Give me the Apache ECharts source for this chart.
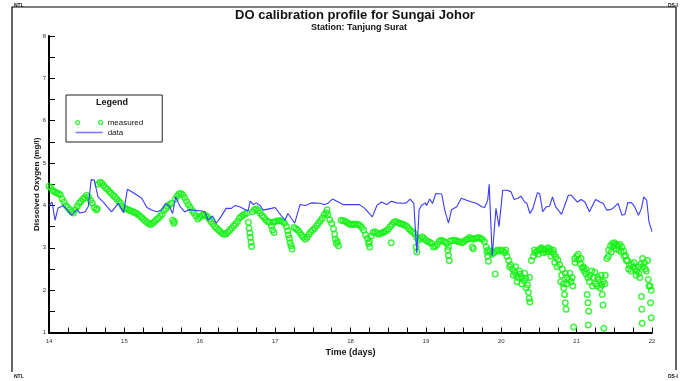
<!DOCTYPE html>
<html>
<head>
<meta charset="utf-8">
<script src="https://cdn.jsdelivr.net/npm/echarts@6/dist/echarts.min.js"></script>
<style>
html,body{margin:0;padding:0;background:#fff;}
#chart{width:683px;height:381px;}
</style>
</head>
<body>
<div id="chart"></div>
<script>
// ---- data (time in days, DO in mg/l) ----
const titleText = 'DO calibration profile for Sungai Johor';
const subtitleText = 'Station: Tanjung Surat';
const xTickLabels = ['14','15','16','17','18','19','20','21','22'];
const yTickLabels = ['1','2','3','4','5','6','7','8'];

const modelData = [
[14.00,4.0],[14.04,4.08],[14.08,3.65],[14.12,3.94],[14.19,4.0],[14.30,3.77],[14.37,3.91],[14.41,3.82],[14.48,3.85],[14.52,3.97],
[14.56,4.61],[14.60,4.6],[14.65,4.2],[14.72,4.08],[14.83,3.85],[14.92,4.05],[14.99,3.83],[15.04,4.38],[15.12,4.3],[15.23,4.17],
[15.30,3.95],[15.36,3.89],[15.43,3.85],[15.49,3.89],[15.55,4.05],[15.60,3.97],[15.64,3.81],[15.68,4.2],[15.74,3.97],[15.80,3.85],
[15.86,3.9],[15.91,3.89],[16.03,3.87],[16.07,3.85],[16.11,3.65],[16.17,3.75],[16.22,3.58],[16.28,3.73],[16.35,3.93],[16.42,3.93],
[16.47,4.0],[16.53,3.97],[16.64,3.87],[16.67,4.1],[16.71,4.02],[16.75,4.06],[16.80,4.0],[16.84,3.89],[16.95,3.93],[17.00,3.95],
[17.06,3.81],[17.13,3.65],[17.17,3.81],[17.26,3.58],[17.33,4.02],[17.40,4.0],[17.48,4.06],[17.59,4.05],[17.66,4.02],[17.70,4.05],
[17.76,4.15],[17.84,4.08],[17.90,4.02],[17.99,4.02],[18.12,4.02],[18.19,3.93],[18.26,3.79],[18.29,3.73],[18.35,4.0],[18.41,4.08],
[18.48,4.02],[18.54,4.1],[18.61,4.06],[18.70,4.05],[18.74,4.06],[18.79,4.15],[18.84,4.05],[18.88,2.87],[18.91,3.89],[18.94,4.0],
[18.99,4.06],[19.01,4.0],[19.05,4.15],[19.09,4.05],[19.13,4.28],[19.21,4.27],[19.25,3.89],[19.30,3.58],[19.34,3.9],[19.41,3.97],
[19.47,4.17],[19.54,4.12],[19.61,4.08],[19.67,4.05],[19.74,3.97],[19.78,3.95],[19.82,4.12],[19.84,4.5],[19.88,2.8],[19.93,3.93],
[19.97,3.5],[20.02,4.36],[20.08,4.36],[20.13,4.32],[20.17,4.14],[20.22,4.17],[20.26,4.22],[20.31,4.08],[20.34,4.05],[20.38,3.81],
[20.42,3.93],[20.48,4.3],[20.51,4.28],[20.55,3.85],[20.60,3.97],[20.64,3.98],[20.68,4.2],[20.72,3.97],[20.80,3.79],[20.89,4.24],
[20.93,4.24],[21.01,4.08],[21.06,4.14],[21.11,4.08],[21.17,3.85],[21.25,4.14],[21.31,4.08],[21.35,4.05],[21.40,3.89],[21.44,3.9],
[21.48,3.93],[21.55,4.05],[21.60,3.77],[21.64,3.79],[21.68,4.07],[21.73,4.06],[21.77,3.97],[21.82,3.77],[21.86,3.93],[21.89,4.2],
[21.93,4.12],[21.96,3.61],[22.00,3.38]
];

const measuredData = [
// day 14
[14.000,4.45],[14.025,4.42],[14.050,4.35],[14.075,4.32],[14.100,4.30],[14.125,4.28],[14.150,4.25],[14.175,4.15],[14.200,4.08],[14.225,4.00],
[14.250,3.95],[14.275,3.90],[14.300,3.85],[14.325,3.82],[14.350,3.90],[14.375,3.98],[14.400,4.05],[14.425,4.10],[14.450,4.15],[14.475,4.18],
[14.500,4.24],[14.525,4.20],[14.550,4.12],[14.575,4.05],[14.600,3.95],[14.625,3.90],[14.640,3.92],[14.650,4.50],[14.675,4.55],[14.700,4.53],
[14.725,4.47],[14.750,4.42],[14.775,4.38],[14.800,4.33],[14.825,4.29],[14.850,4.24],[14.875,4.20],[14.900,4.15],[14.925,4.10],[14.950,4.05],
[14.975,3.98],
// day 15
[15.000,3.93],[15.025,3.92],[15.050,3.90],[15.075,3.88],[15.100,3.86],[15.125,3.84],[15.150,3.82],[15.175,3.80],[15.200,3.76],[15.225,3.72],
[15.250,3.68],[15.275,3.64],[15.300,3.60],[15.325,3.57],[15.350,3.55],[15.375,3.58],[15.400,3.62],[15.425,3.66],[15.450,3.70],[15.475,3.75],
[15.500,3.80],[15.525,3.88],[15.550,3.93],[15.575,3.98],[15.600,4.02],[15.625,4.05],[15.640,3.65],[15.655,3.58],[15.665,3.62],[15.675,4.15],
[15.700,4.22],[15.725,4.27],[15.750,4.28],[15.775,4.25],[15.800,4.18],[15.825,4.10],[15.850,4.02],[15.875,3.95],[15.900,3.88],[15.925,3.82],
[15.950,3.75],[15.975,3.68],
// day 16
[16.000,3.72],[16.025,3.76],[16.050,3.78],[16.075,3.76],[16.100,3.74],[16.125,3.68],[16.150,3.62],[16.175,3.56],[16.200,3.50],[16.225,3.46],
[16.250,3.42],[16.275,3.38],[16.300,3.34],[16.325,3.32],[16.350,3.33],[16.375,3.37],[16.400,3.42],[16.425,3.47],[16.450,3.52],[16.475,3.56],
[16.500,3.62],[16.525,3.70],[16.550,3.74],[16.575,3.77],[16.600,3.80],[16.625,3.82],[16.645,3.60],[16.655,3.46],[16.665,3.35],[16.672,3.25],
[16.680,3.13],[16.688,3.03],[16.700,3.85],[16.725,3.90],[16.750,3.92],[16.775,3.88],[16.800,3.82],[16.825,3.76],[16.850,3.72],[16.875,3.66],
[16.900,3.62],[16.925,3.60],[16.950,3.52],[16.965,3.42],[16.985,3.36],[16.975,3.60],
// day 17
[17.000,3.62],[17.025,3.63],[17.050,3.64],[17.075,3.64],[17.100,3.62],[17.125,3.58],[17.150,3.50],[17.165,3.40],[17.175,3.30],[17.190,3.22],
[17.200,3.12],[17.212,3.05],[17.225,2.97],[17.250,3.48],[17.275,3.45],[17.300,3.42],[17.325,3.36],[17.350,3.30],[17.375,3.25],[17.400,3.20],
[17.425,3.25],[17.450,3.32],[17.475,3.38],[17.500,3.42],[17.525,3.46],[17.550,3.52],[17.575,3.58],[17.600,3.64],[17.625,3.70],[17.650,3.78],
[17.675,3.83],[17.690,3.90],[17.700,3.78],[17.725,3.66],[17.750,3.58],[17.775,3.45],[17.790,3.32],[17.800,3.20],[17.812,3.10],[17.825,3.15],
[17.840,3.05],[17.875,3.65],[17.900,3.64],[17.925,3.63],[17.950,3.60],[17.975,3.57],
// day 18
[18.000,3.55],[18.025,3.56],[18.050,3.55],[18.075,3.56],[18.100,3.55],[18.125,3.53],[18.150,3.48],[18.175,3.42],[18.200,3.30],[18.225,3.22],
[18.240,3.10],[18.255,3.02],[18.250,3.15],[18.275,3.28],[18.300,3.36],[18.325,3.38],[18.350,3.35],[18.375,3.32],[18.400,3.34],[18.425,3.36],
[18.450,3.38],[18.475,3.40],[18.500,3.44],[18.525,3.50],[18.540,3.12],[18.550,3.55],[18.575,3.60],[18.600,3.62],[18.625,3.60],[18.650,3.58],
[18.675,3.57],[18.700,3.55],[18.725,3.53],[18.750,3.50],[18.775,3.45],[18.800,3.40],[18.825,3.37],[18.850,3.33],[18.870,3.02],[18.880,2.90],
[18.875,3.25],[18.900,3.18],[18.925,3.22],[18.950,3.26],[18.975,3.22],
// day 19
[19.000,3.18],[19.025,3.15],[19.050,3.13],[19.075,3.10],[19.100,3.02],[19.125,3.03],[19.150,3.08],[19.175,3.15],[19.200,3.18],[19.225,3.16],
[19.250,3.14],[19.275,3.10],[19.290,2.95],[19.300,2.82],[19.310,2.70],[19.300,3.02],[19.325,3.16],[19.350,3.17],[19.375,3.18],[19.400,3.17],
[19.425,3.15],[19.450,3.14],[19.475,3.12],[19.500,3.14],[19.525,3.18],[19.550,3.20],[19.575,3.24],[19.600,3.22],[19.615,3.02],[19.630,2.98],
[19.625,3.20],[19.650,3.22],[19.675,3.23],[19.700,3.24],[19.725,3.22],[19.750,3.20],[19.775,3.15],[19.800,3.02],[19.810,2.90],[19.820,2.80],
[19.830,2.68],[19.825,2.95],[19.850,2.92],[19.875,2.85],[19.900,2.88],[19.920,2.38],[19.925,2.92],[19.950,2.95],[19.975,2.92],
// day 20
[20.000,2.95],[20.025,2.92],[20.050,2.88],[20.075,2.80],[20.100,2.70],[20.125,2.60],[20.150,2.50],[20.175,2.42],[20.200,2.35],[20.225,2.30],
[20.250,2.38],[20.275,2.30],[20.300,2.22],[20.325,2.28],[20.350,2.12],[20.360,1.95],[20.370,1.80],[20.380,1.72],[20.375,2.30],[20.400,2.70],
[20.425,2.80],[20.450,2.88],[20.475,2.92],[20.500,2.95],[20.525,2.97],[20.550,2.96],[20.575,2.95],[20.600,2.98],[20.625,3.00],[20.650,2.96],
[20.675,2.90],[20.700,2.85],[20.725,2.78],[20.750,2.72],[20.775,2.60],[20.800,2.35],[20.825,2.15],[20.840,1.90],[20.850,1.70],[20.860,1.55],
[20.850,2.40],[20.875,2.30],[20.900,2.25],[20.925,2.20],[20.950,2.10],[20.960,1.13],[20.975,2.75],
[20.06,2.95],[20.11,2.55],[20.16,2.35],[20.19,2.55],[20.21,2.20],[20.24,2.45],[20.27,2.15],[20.31,2.40],[20.33,2.05],[20.44,2.95],
[20.49,2.85],[20.53,3.00],[20.56,2.88],[20.59,2.90],[20.63,2.92],[20.66,2.80],[20.69,2.95],[20.71,2.65],[20.74,2.55],[20.79,2.20],
[20.81,2.50],[20.83,2.05],[20.87,2.15],[20.91,2.40],[20.94,2.30],[20.98,2.65],
// day 21
[21.000,2.80],[21.025,2.72],[21.050,2.62],[21.075,2.52],[21.100,2.45],[21.125,2.38],[21.140,1.90],[21.150,1.70],[21.160,1.50],[21.155,1.18],
[21.150,2.30],[21.175,2.35],[21.200,2.45],[21.225,2.30],[21.250,2.15],[21.275,2.10],[21.300,2.25],[21.325,2.35],[21.340,1.90],[21.350,1.65],
[21.360,1.10],[21.350,2.20],[21.375,2.15],[21.400,2.75],[21.425,2.95],[21.450,3.05],[21.475,3.10],[21.500,3.12],[21.525,3.08],[21.550,3.05],
[21.575,3.08],[21.600,3.02],[21.625,2.92],[21.650,2.82],[21.675,2.70],[21.700,2.58],[21.725,2.62],[21.750,2.55],[21.775,2.50],[21.800,2.45],
[21.825,2.40],[21.850,2.62],[21.860,1.85],[21.865,1.55],[21.870,1.22],[21.875,2.75],[21.900,2.65],[21.925,2.45],[21.950,2.25],[21.975,2.10],
[21.980,1.70],[21.990,1.35],
[21.02,2.85],[21.06,2.75],[21.09,2.55],[21.12,2.50],[21.17,2.20],[21.21,2.10],[21.24,2.42],[21.28,2.30],[21.31,2.05],[21.33,2.12],
[21.38,2.35],[21.42,2.80],[21.46,2.90],[21.49,3.05],[21.52,2.98],[21.56,2.95],[21.59,2.90],[21.63,2.80],[21.66,2.70],[21.69,2.50],
[21.72,2.45],[21.76,2.65],[21.79,2.35],[21.82,2.55],[21.84,2.30],[21.88,2.55],[21.91,2.50],[21.94,2.70],[21.96,2.10],[21.99,2.00]
];

const chart = echarts.init(document.getElementById('chart'), null, {renderer: 'canvas'});
const font = 'Liberation Sans, Arial, sans-serif';
const green = '#14f014';
const blue = '#3a3aff';

chart.setOption({
  animation: false,
  backgroundColor: '#fff',
  title: [
    {text: titleText, left: 350, top: 4, textAlign: 'center',
     textStyle: {fontFamily: font, fontSize: 13, fontWeight: 'bold', color: '#111'}},
    {text: subtitleText, left: 354, top: 18, textAlign: 'center',
     textStyle: {fontFamily: font, fontSize: 9, fontWeight: 'bold', color: '#111'}}
  ],
  legend: {
    orient: 'vertical',
    left: 66, top: 95,
    padding: [23, 19, 5, 9],
    borderColor: '#222', borderWidth: 1,
    itemWidth: 27, itemHeight: 6, itemGap: 1, itemTextGap: 11,
    textStyle: {fontFamily: font, fontSize: 8, color: '#111', lineHeight: 9},
    data: [
      {name: 'measured', icon: 'path://M0,2a2,2 0 1,0 4,0a2,2 0 1,0 -4,0ZM23,2a2,2 0 1,0 4,0a2,2 0 1,0 -4,0Z',
       itemStyle: {color: 'rgba(0,0,0,0)', borderColor: green, borderWidth: 1.3}},
      {name: 'data', icon: 'path://M0,0H27V1.6H0Z',
       itemStyle: {color: '#7a7aff', borderWidth: 0}}
    ]
  },
  graphic: [
    {type: 'polyline', silent: true, shape: {points: [[12, 372], [12, 7], [676, 7], [676, 370]]},
     style: {stroke: '#000', lineWidth: 1.2, fill: null}},
    {type: 'text', left: 14, top: 3, style: {text: 'NTL', font: 'bold 5px ' + font, fill: '#111'}},
    {type: 'text', left: 668, top: 3, style: {text: 'DS-I', font: 'bold 5px ' + font, fill: '#111'}},
    {type: 'text', left: 14, top: 374, style: {text: 'NTL', font: 'bold 5px ' + font, fill: '#111'}},
    {type: 'text', left: 668, top: 374, style: {text: 'DS-I', font: 'bold 5px ' + font, fill: '#111'}},
    {type: 'text', left: 96, top: 98, style: {text: 'Legend', font: 'bold 9px ' + font, fill: '#111'}}
  ],
  grid: {left: 49, right: 31, top: 36, bottom: 48.5, containLabel: false},
  xAxis: {
    type: 'value', min: 14, max: 22, interval: 1,
    name: 'Time (days)', nameLocation: 'middle', nameGap: 16, nameMoveOverlap: false,
    nameTextStyle: {fontFamily: font, fontSize: 9, fontWeight: 'bold', color: '#111'},
    axisLine: {lineStyle: {color: '#000', width: 2}},
    axisTick: {inside: true, length: 5, lineStyle: {color: '#000', width: 1}},
    minorTick: {show: true, splitNumber: 4, length: 5, lineStyle: {color: '#000', width: 1}},
    splitLine: {show: false},
    axisLabel: {fontFamily: font, fontSize: 6, color: '#333', margin: 6,
      formatter: (v) => xTickLabels[Math.round(v - 14)]}
  },
  yAxis: {
    type: 'value', min: 1, max: 8, interval: 1,
    name: 'Dissolved Oxygen (mg/l)', nameLocation: 'middle', nameGap: 8, nameMoveOverlap: false,
    nameTextStyle: {fontFamily: font, fontSize: 8, fontWeight: 'bold', color: '#111'},
    axisLine: {show: true, lineStyle: {color: '#000', width: 2}},
    axisTick: {show: true, inside: true, length: 6, lineStyle: {color: '#000', width: 1}},
    minorTick: {show: true, splitNumber: 2, length: 6, lineStyle: {color: '#000', width: 1}},
    splitLine: {show: false},
    axisLabel: {fontFamily: font, fontSize: 6, color: '#333', margin: 3,
      formatter: (v) => yTickLabels[Math.round(v - 1)]}
  },
  series: [
    {name: 'measured', type: 'scatter', data: measuredData, symbol: 'circle', symbolSize: 5.5,
     itemStyle: {color: 'rgba(0,0,0,0)', borderColor: green, borderWidth: 1.5}, z: 2},
    {name: 'data', type: 'line', data: modelData, symbol: 'none', showSymbol: false,
     lineStyle: {color: blue, width: 1.1}, itemStyle: {color: blue}, z: 3}
  ]
});
</script>
</body>
</html>
